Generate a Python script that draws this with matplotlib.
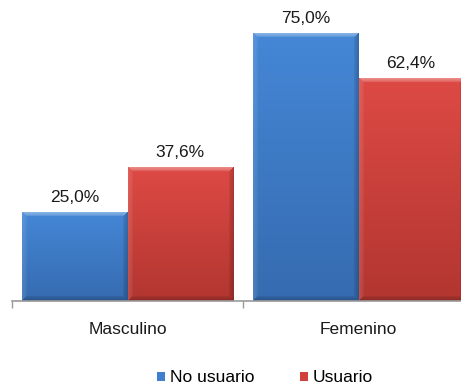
import numpy as np
import matplotlib
matplotlib.use("Agg")
import matplotlib.pyplot as plt
from matplotlib.patches import Patch

plt.rcParams['font.family'] = ['Liberation Sans', 'DejaVu Sans']

categories = ['Masculino', 'Femenino']
series = ['No usuario', 'Usuario']
no_usuario = [25.0, 75.0]
usuario = [37.6, 62.4]
values = [no_usuario, usuario]

# top / bottom shades for each series
tops = [(0.27, 0.53, 0.84), (0.87, 0.29, 0.27)]
bottoms = [(0.21, 0.42, 0.69), (0.70, 0.21, 0.19)]
legend_cols = ['#3f7fcf', '#d2403b']
fs = 12.5


def bevel_image(top, bot, w, h, b=5):
    w, h = max(int(round(w)), 2), max(int(round(h)), 2)
    top, bot = np.array(top), np.array(bot)
    t = np.linspace(0, 1, h)[:, None, None]
    img = np.broadcast_to(top * (1 - t) + bot * t, (h, w, 3)).copy()
    yy, xx = np.mgrid[0:h, 0:w]
    d = np.stack([yy, h - 1 - yy, xx, w - 1 - xx])
    idx = d.argmin(axis=0)
    dmin = d.min(axis=0)
    wgt = np.clip(1 - dmin / b, 0, 1) ** 0.6
    shade = np.array([0.40, -0.22, 0.12, -0.20])[idx] * wgt
    light = shade > 0
    img[light] = img[light] + (1 - img[light]) * shade[light][:, None]
    img[~light] = img[~light] * (1 + shade[~light])[:, None]
    return np.clip(img, 0, 1)


fig = plt.figure(figsize=(4.61, 3.88), dpi=100)
ax = fig.add_axes([12 / 461, 87 / 388, 462 / 461, 286 / 388])
ax.set_xlim(-0.5, 1.5)
ax.set_ylim(0, 80)

x = np.arange(len(categories))
width = 0.455
for s, vals in enumerate(values):
    pos = x + (s - 0.5) * width
    bars = ax.bar(pos, vals, width, facecolor='none', edgecolor='none', zorder=2)
    for bar, v in zip(bars, vals):
        x0, x1 = bar.get_x(), bar.get_x() + bar.get_width()
        p0 = ax.transData.transform((x0, 0))
        p1 = ax.transData.transform((x1, v))
        img = bevel_image(tops[s], bottoms[s], p1[0] - p0[0], p1[1] - p0[1])
        im = ax.imshow(img, extent=[x0, x1, 0, v], aspect='auto',
                       interpolation='bilinear', zorder=2)
        im.set_clip_path(bar)
        ax.annotate(f'{v:.1f}%'.replace('.', ','), (bar.get_x() + bar.get_width() / 2, v),
                    xytext=(0, 5), textcoords='offset points',
                    ha='center', va='bottom', fontsize=fs, color='#1a1a1a')

ax.set_xlim(-0.5, 1.5)
ax.set_ylim(0, 80)

for side in ['top', 'right', 'left']:
    ax.spines[side].set_visible(False)
ax.spines['bottom'].set_color('#9a9a9a')
ax.spines['bottom'].set_linewidth(1.2)
ax.set_yticks([])
ax.set_xticks([-0.5, 0.5, 1.5])
ax.set_xticklabels([])
ax.tick_params(axis='x', which='major', length=5, color='#9a9a9a', width=1)
ax.set_xticks(x, minor=True)
ax.set_xticklabels(categories, minor=True, fontsize=fs, color='#1a1a1a')
ax.tick_params(axis='x', which='minor', length=0, pad=15)

handles = [Patch(facecolor=c, edgecolor='none') for c in legend_cols]
fig.legend(handles, series, loc='center', bbox_to_anchor=(0.575, 0.026),
           ncol=2, frameon=False, fontsize=fs, handlelength=0.45,
           handleheight=0.45, handletextpad=0.3, columnspacing=2.6)

fig.savefig('out.png', dpi=100)
